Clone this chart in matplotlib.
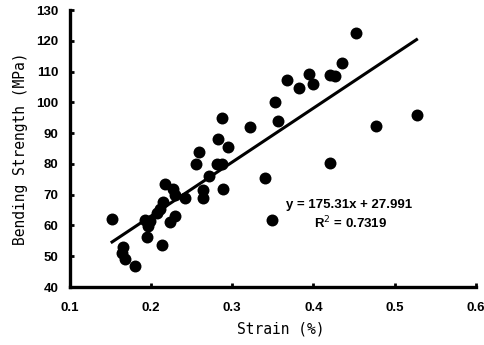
import numpy as np
import matplotlib
matplotlib.use("Agg")
import matplotlib.pyplot as plt

# strain (%) and bending strength (MPa)
strain = [0.152, 0.165, 0.164, 0.168, 0.180, 0.195, 0.213, 0.192, 0.199, 0.196,
          0.207, 0.211, 0.215, 0.217, 0.227, 0.229, 0.223, 0.229, 0.242, 0.264,
          0.264, 0.272, 0.289, 0.256, 0.259, 0.281, 0.287, 0.283, 0.295, 0.287,
          0.322, 0.340, 0.349, 0.353, 0.356, 0.367, 0.382, 0.394, 0.399, 0.420,
          0.426, 0.435, 0.453, 0.421, 0.477, 0.527]
strength = [62.2, 53.0, 51.0, 49.0, 46.8, 56.3, 53.5, 61.8, 61.5, 59.8,
            64.0, 65.5, 67.5, 73.5, 72.0, 70.0, 61.0, 63.0, 68.8, 71.5,
            69.0, 76.2, 71.8, 80.0, 83.8, 80.0, 80.0, 88.0, 85.5, 95.0,
            92.0, 75.5, 61.8, 100.0, 93.8, 107.3, 104.7, 109.3, 106.0, 108.9,
            108.5, 112.8, 122.6, 80.3, 92.3, 95.9]

slope, intercept = 175.31, 27.991
r2 = 0.7319

xticks = [0.1, 0.2, 0.3, 0.4, 0.5, 0.6]
yticks = [40, 50, 60, 70, 80, 90, 100, 110, 120, 130]

tick_font = ['Liberation Sans Narrow', 'Liberation Sans', 'DejaVu Sans']
label_font = ['DejaVu Sans Mono']

fig = plt.figure(figsize=(4.85, 3.45), dpi=100)
ax = fig.add_axes([0.144, 0.168, 0.837, 0.803])

ax.scatter(strain, strength, s=74, color='black', zorder=3, linewidths=0)

xs = np.array([min(strain), max(strain)])
ax.plot(xs, slope * xs + intercept, color='black', lw=2.2, zorder=2)

ax.set_xlim(0.1, 0.6)
ax.set_ylim(40, 130)
ax.set_xticks(xticks)
ax.set_yticks(yticks)
ax.set_xticklabels([f"{t:g}" for t in xticks], family=tick_font, weight='bold', fontsize=9.5)
ax.set_yticklabels([str(t) for t in yticks], family=tick_font, weight='bold', fontsize=9.5)
ax.tick_params(direction='in', length=3, width=2)
ax.tick_params(axis='x', pad=11)
ax.tick_params(axis='y', pad=8)

for s in ['top', 'right']:
    ax.spines[s].set_visible(False)
for s in ['left', 'bottom']:
    ax.spines[s].set_linewidth(2.4)

ax.set_xlabel("Strain (%)", family=label_font, fontsize=10.5)
ax.set_ylabel("Bending Strength (MPa)", family=label_font, fontsize=10.5, labelpad=6)
ax.xaxis.set_label_coords(0.5 + 8 / 406, -0.125)

ax.text(0.366, 66.6, f"y = {slope}x + {intercept}", family=tick_font, weight='bold',
        fontsize=9.5, va='center', ha='left')
ax.text(0.446, 60.8, f"R$^2$ = {r2}", family=tick_font, weight='bold',
        fontsize=9.5, va='center', ha='center')

fig.savefig("out.png", dpi=100)
